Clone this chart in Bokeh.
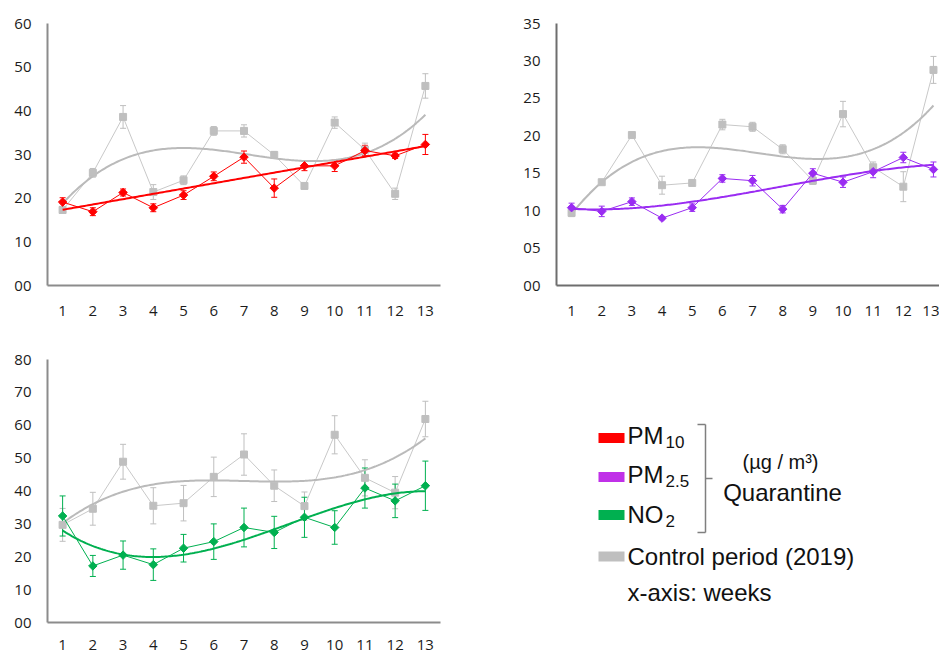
import numpy as np
from bokeh.plotting import figure
from bokeh.models import Range1d, FixedTicker, ColumnDataSource, Whisker, TeeHead, PrintfTickFormatter
from bokeh.layouts import column, row
from bokeh.embed import file_html
from bokeh.resources import INLINE
from bokeh.core.properties import value

# ---------------- data ----------------
weeks = [1, 2, 3, 4, 5, 6, 7, 8, 9, 10, 11, 12, 13]

pm10_quar = [19.1, 16.9, 21.3, 17.8, 20.7, 25.0, 29.4, 22.3, 27.4, 27.4, 30.9, 29.7, 32.3]
pm10_quar_err = [1.0, 0.9, 0.8, 0.9, 1.0, 1.0, 1.4, 2.1, 1.1, 1.3, 1.2, 0.6, 2.3]
pm10_ctrl = [17.3, 25.8, 38.6, 21.4, 24.1, 35.4, 35.4, 29.9, 22.8, 37.3, 31.1, 21.0, 45.7]
pm10_ctrl_err = [0.8, 1.0, 2.6, 1.7, 1.0, 1.0, 1.4, 0.8, 0.6, 1.3, 1.5, 1.3, 2.8]

pm25_quar = [10.4, 9.9, 11.2, 9.0, 10.4, 14.3, 14.0, 10.2, 15.0, 13.8, 15.2, 17.1, 15.5]
pm25_quar_err = [0.6, 0.7, 0.5, 0.2, 0.5, 0.5, 0.7, 0.5, 0.6, 0.7, 0.8, 0.7, 1.0]
pm25_ctrl = [9.7, 13.8, 20.1, 13.4, 13.7, 21.5, 21.2, 18.2, 14.0, 22.9, 15.8, 13.2, 28.8]
pm25_ctrl_err = [0.5, 0.3, 0.3, 1.2, 0.4, 0.7, 0.6, 0.6, 0.5, 1.7, 0.7, 2.0, 1.8]

no2_quar = [32.4, 17.2, 20.5, 17.6, 22.6, 24.6, 28.9, 27.4, 32.0, 28.9, 40.9, 37.0, 41.6]
no2_quar_err = [6.1, 3.2, 4.3, 4.8, 4.2, 5.4, 5.9, 4.9, 6.1, 5.1, 6.1, 5.1, 7.5]
no2_ctrl = [29.7, 34.6, 48.9, 35.5, 36.3, 44.3, 51.1, 41.6, 35.4, 57.1, 44.0, 39.5, 61.9]
no2_ctrl_err = [5.0, 5.0, 5.3, 5.5, 5.4, 6.0, 6.3, 4.8, 4.3, 5.8, 5.5, 4.9, 5.4]

legend_names = ["PM", "PM", "NO"]
legend_subs = ["10", "2.5", "2"]
legend_colors = ["#ff0000", "#c030e8", "#00b050"]
control_label = "Control period (2019)"
unit_label = "(µg / m³)"
group_label = "Quarantine"
axis_note = "x-axis: weeks"

RED = "#ff0000"
PURPLE = "#9a2cf2"
GREEN = "#00b050"
GREY_MK = "#bfbfbf"
GREY_LN = "#c8c8c8"
GREY_TR = "#bababa"
AXIS_FONT = "Open Sans"
LEG_FONT = "Liberation Sans"


def trend(y, deg):
    coef = np.polyfit(weeks, y, deg)
    xs = np.linspace(weeks[0], weeks[-1], 200)
    return xs, np.polyval(coef, xs)


def add_errors(p, y, err, color):
    ya = np.array(y)
    ea = np.array(err)
    src = ColumnDataSource(dict(x=weeks, upper=ya + ea, lower=ya - ea))
    w = Whisker(base="x", upper="upper", lower="lower", source=src,
                line_color=color, line_width=1,
                upper_head=TeeHead(size=6, line_color=color, line_width=1),
                lower_head=TeeHead(size=6, line_color=color, line_width=1))
    p.add_layout(w)


def make_chart(width, height, xmax, ymax, ystep, quar, quar_err, ctrl, ctrl_err,
               color, qdeg, cdeg, bl, br, bt, bb, axis_color, xstand):
    p = figure(width=width, height=height, output_backend="svg", toolbar_location=None,
               title=None,
               x_range=Range1d(0.5, xmax), y_range=Range1d(0, ymax),
               min_border_left=bl, min_border_right=br, min_border_top=bt, min_border_bottom=bb)
    p.grid.visible = False
    p.outline_line_color = None
    p.background_fill_color = "white"
    p.border_fill_color = "white"
    p.yaxis.ticker = FixedTicker(ticks=list(range(0, ymax + 1, ystep)))
    p.yaxis.formatter = PrintfTickFormatter(format="%02d")
    p.xaxis.ticker = FixedTicker(ticks=weeks)
    for ax in (p.xaxis[0], p.yaxis[0]):
        ax.axis_line_color = axis_color
        ax.axis_line_width = 2
        ax.major_tick_line_color = None
        ax.minor_tick_line_color = None
        ax.major_tick_out = 0
        ax.major_tick_in = 0
        ax.major_label_text_font = AXIS_FONT
        ax.major_label_text_font_size = "15px"
        ax.major_label_text_color = "#1c1c1c"
    p.yaxis.major_label_standoff = 16
    p.xaxis.major_label_standoff = xstand
    p.xaxis.major_label_text_line_height = 1.0

    # control period (grey)
    add_errors(p, ctrl, ctrl_err, GREY_MK)
    p.line(weeks, ctrl, line_color=GREY_LN, line_width=1)
    tx, ty = trend(ctrl, cdeg)
    p.line(tx, ty, line_color=GREY_TR, line_width=2)
    p.scatter(weeks, ctrl, marker="square", size=7, fill_color=GREY_MK, line_color=GREY_MK)

    # quarantine
    add_errors(p, quar, quar_err, color)
    p.line(weeks, quar, line_color=color, line_width=1)
    tx, ty = trend(quar, qdeg)
    p.line(tx, ty, line_color=color, line_width=2)
    p.scatter(weeks, quar, marker="square", angle=np.pi / 4, size=6,
              fill_color=color, line_color=color)
    return p


p1 = make_chart(470, 320, 13.5, 60, 10, pm10_quar, pm10_quar_err, pm10_ctrl, pm10_ctrl_err,
                RED, 1, 3, 47, 30, 23, 35, "#8c8c8c", 20)
p2 = make_chart(469, 320, 13.2, 35, 5, pm25_quar, pm25_quar_err, pm25_ctrl, pm25_ctrl_err,
                PURPLE, 3, 3, 86, 0, 23, 35, "#6e6e6e", 20)
p3 = make_chart(470, 333, 13.5, 80, 10, no2_quar, no2_quar_err, no2_ctrl, no2_ctrl_err,
                GREEN, 3, 3, 47, 30, 39, 31, "#8c8c8c", 17)

# ---------------- legend panel ----------------
# borders match the neighbouring chart so that data units equal pixels from the panel top
p4 = figure(width=469, height=333, output_backend="svg", toolbar_location=None, title=None,
            x_range=Range1d(0, 469), y_range=Range1d(302, 39),
            x_axis_type=None, y_axis_type=None,
            min_border_left=0, min_border_right=0, min_border_top=39, min_border_bottom=31)
p4.grid.visible = False
p4.outline_line_color = None

sw_x = 141
text_x = 157
rows_y = [117.5, 156.5, 194.5]
base_y = [114.5, 153.5, 193.5]
p4.rect(x=[sw_x] * 3, y=rows_y, width=26, height=10, fill_color=legend_colors, line_color=None)
p4.text(x=[text_x] * 3, y=base_y, text=legend_names, text_font=value(LEG_FONT),
        text_font_size="24px", text_color="#111111", text_baseline="alphabetic")
p4.text(x=[195, 195, 195], y=[b + 6.5 for b in base_y], text=legend_subs, text_font=value(LEG_FONT),
        text_font_size="17px", text_color="#111111", text_baseline="alphabetic")

# bracket
p4.segment(x0=[235, 227, 227, 235], y0=[104, 104, 212, 158],
           x1=[235, 235, 235, 242], y1=[212, 104, 212, 158],
           line_color="#7f7f7f", line_width=1.5)
p4.text(x=[310], y=[141], text=[unit_label], text_font=value(LEG_FONT), text_font_size="20px",
        text_color="#111111", text_align="center", text_baseline="alphabetic")
p4.text(x=[312], y=[171.5], text=[group_label], text_font=value(LEG_FONT), text_font_size="24px",
        text_color="#111111", text_align="center", text_baseline="alphabetic")

# control + axis note
p4.rect(x=[sw_x], y=[236], width=26, height=10, fill_color=GREY_MK, line_color=None)
p4.text(x=[text_x], y=[235.5], text=[control_label], text_font=value(LEG_FONT), text_font_size="24px",
        text_color="#111111", text_baseline="alphabetic")
p4.text(x=[text_x], y=[272], text=[axis_note], text_font=value(LEG_FONT), text_font_size="24px",
        text_color="#111111", text_baseline="alphabetic")

layout = column(row(p1, p2), row(p3, p4))
open("out.html", "w").write(file_html(layout, INLINE))
